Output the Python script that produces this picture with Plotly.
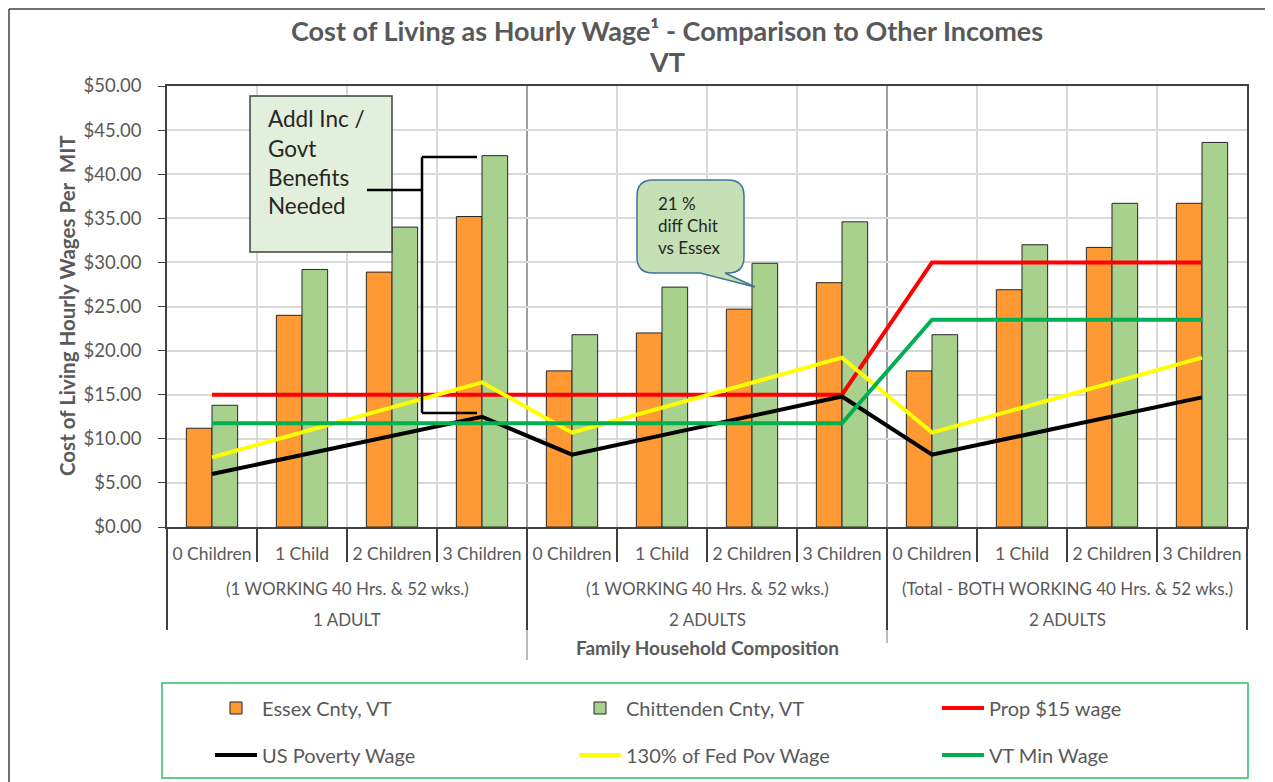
import plotly.graph_objects as go

# ---------------- data ----------------
children = ["0 Children", "1 Child", "2 Children", "3 Children",
            "0 Children", "1 Child", "2 Children", "3 Children",
            "0 Children", "1 Child", "2 Children", "3 Children"]
working_labels = ["(1 WORKING 40 Hrs. & 52 wks.)",
                  "(1 WORKING 40 Hrs. & 52 wks.)",
                  "(Total - BOTH WORKING 40 Hrs. & 52 wks.)"]
adult_labels = ["1 ADULT", "2 ADULTS", "2 ADULTS"]

essex = [11.2, 24.0, 28.9, 35.2, 17.7, 22.0, 24.7, 27.7, 17.7, 26.9, 31.7, 36.7]
chittenden = [13.8, 29.2, 34.0, 42.1, 21.8, 27.2, 29.9, 34.6, 21.8, 32.0, 36.7, 43.6]
prop15 = [15, 15, 15, 15, 15, 15, 15, 15, 30, 30, 30, 30]
poverty = [6.0, 8.2, 10.4, 12.5, 8.2, 10.4, 12.6, 14.8, 8.2, 10.4, 12.6, 14.7]
pov130 = [7.9, 10.7, 13.5, 16.4, 10.7, 13.5, 16.4, 19.2, 10.7, 13.5, 16.4, 19.2]
vtmin = [11.75, 11.75, 11.75, 11.75, 11.75, 11.75, 11.75, 11.75, 23.5, 23.5, 23.5, 23.5]

title_text = "Cost of Living as Hourly Wage¹ - Comparison to Other Incomes"
subtitle_text = "VT"
y_title = "Cost of Living Hourly Wages Per  MIT"
x_title = "Family Household Composition"

# ---------------- geometry helpers ----------------
# The page body has an 8px margin, so the figure is drawn 8px smaller and
# all page-pixel positions below are converted with that offset in mind.
OFF = 8
PW, PH = 1273, 782
L, R, T, B = 167, 1247, 86, 527          # plot area in page pixels
W, H = PW - OFF, PH - OFF


def px(x):
    return (x - L) / (R - L)


def py(y):
    return (B - y) / (B - T)


FONT = "Lato, Open Sans, sans-serif"
GRAY = "#595959"
xs = list(range(len(children)))

fig = go.Figure()
fig.add_trace(go.Bar(x=xs, y=essex, name="Essex Cnty, VT",
                     marker=dict(color="#FF9933", line=dict(color="#262626", width=1)),
                     legend="legend"))
fig.add_trace(go.Bar(x=xs, y=chittenden, name="Chittenden Cnty, VT",
                     marker=dict(color="#A9D18E", line=dict(color="#262626", width=1)),
                     legend="legend2"))
fig.add_trace(go.Scatter(x=xs, y=prop15, name="Prop $15 wage", mode="lines",
                         line=dict(color="#FF0000", width=4), legend="legend3"))
fig.add_trace(go.Scatter(x=xs, y=poverty, name="US Poverty Wage", mode="lines",
                         line=dict(color="#000000", width=4), legend="legend4"))
fig.add_trace(go.Scatter(x=xs, y=pov130, name="130% of Fed Pov Wage", mode="lines",
                         line=dict(color="#FFFF00", width=4), legend="legend5"))
fig.add_trace(go.Scatter(x=xs, y=vtmin, name="VT Min Wage", mode="lines",
                         line=dict(color="#00B050", width=4), legend="legend6"))

shapes = []
n = len(children)
for i in range(n + 1):
    xp = i / n
    group_edge = (i % 4 == 0)
    if 0 < i < n:
        shapes.append(dict(type="line", xref="paper", yref="paper", x0=xp, x1=xp, y0=0, y1=1,
                           line=dict(color="#7f7f7f" if group_edge else "#d9d9d9",
                                     width=1.5 if group_edge else 2), layer="below"))
    y_end = 630 if group_edge else 562
    shapes.append(dict(type="line", xref="paper", yref="paper", x0=xp, x1=xp,
                       y0=py(y_end), y1=0, line=dict(color="#404040", width=2)))
shapes.append(dict(type="line", xref="paper", yref="paper", x0=4 / n, x1=4 / n,
                   y0=py(660), y1=py(630), line=dict(color="#a6a6a6", width=1.5)))
shapes.append(dict(type="line", xref="paper", yref="paper", x0=8 / n, x1=8 / n,
                   y0=py(643), y1=py(630), line=dict(color="#a6a6a6", width=1.5)))

# legend box
shapes.append(dict(type="rect", xref="paper", yref="paper", x0=px(162), x1=px(1248),
                   y0=py(778), y1=py(683), line=dict(color="#33BB66", width=1.5)))
# outer border (top and left only)
shapes.append(dict(type="line", xref="paper", yref="paper", x0=px(9), x1=px(1273),
                   y0=py(9), y1=py(9), line=dict(color="#404040", width=1.5)))
shapes.append(dict(type="line", xref="paper", yref="paper", x0=px(9), x1=px(9),
                   y0=py(9), y1=py(782), line=dict(color="#404040", width=1.5)))

# callout 1 box
shapes.append(dict(type="rect", xref="paper", yref="paper", x0=px(250), x1=px(392),
                   y0=py(252), y1=py(96), fillcolor="#E2EFDA",
                   line=dict(color="#404040", width=1.5)))
for (x0, y0, x1, y1) in [(367, 190, 422, 190), (422, 157, 422, 413),
                         (422, 157, 477, 157), (422, 413, 477, 413)]:
    shapes.append(dict(type="line", xref="paper", yref="paper", x0=px(x0), x1=px(x1),
                       y0=py(y0), y1=py(y1), line=dict(color="#000000", width=2.5)))


def P(x, y):
    return f"{px(x):.5f},{py(y):.5f}"


bx0, bx1, by0, by1, r = 637, 744, 180, 273, 16
path = (f"M {P(bx0 + r, by0)} L {P(bx1 - r, by0)} Q {P(bx1, by0)} {P(bx1, by0 + r)} "
        f"L {P(bx1, by1 - r)} Q {P(bx1, by1)} {P(bx1 - r, by1)} "
        f"L {P(725, by1)} L {P(755, 287)} L {P(700, by1)} "
        f"L {P(bx0 + r, by1)} Q {P(bx0, by1)} {P(bx0, by1 - r)} "
        f"L {P(bx0, by0 + r)} Q {P(bx0, by0)} {P(bx0 + r, by0)} Z")
shapes.append(dict(type="path", xref="paper", yref="paper", path=path,
                   fillcolor="#C5E0B4", line=dict(color="#41719C", width=1.5)))

annotations = []


def ann(text, x, y, size, color=GRAY, xanchor="center", angle=0):
    annotations.append(dict(text=text, xref="paper", yref="paper", x=x, y=y,
                            xanchor=xanchor, yanchor="middle", showarrow=False,
                            textangle=angle, font=dict(family=FONT, size=size, color=color)))


ann(f"<b>{title_text}</b>", px(667), py(30), 27)
ann(f"<b>{subtitle_text}</b>", px(667), py(62), 27)
ann(f"<b>{y_title}</b>", px(67), py(306), 20.5, angle=-90)
ann(f"<b>{x_title}</b>", px(707), py(647), 19)
for g in range(3):
    cx = (4 * g + 2) / n
    ann(working_labels[g], cx, py(588), 17)
    ann(adult_labels[g], cx, py(619), 17)
for txt, yy in zip(["Addl Inc /", "Govt", "Benefits", "Needed"], [119, 148, 177, 205]):
    ann(txt, px(266), py(yy), 22.5, color="#262626", xanchor="left")
for txt, yy in zip(["21 %", "diff Chit", "vs Essex"], [203, 225, 247]):
    ann(txt, px(656), py(yy), 17, color="#262626", xanchor="left")

legend_cols = [215, 579, 942]
legend_rows = [708, 755]
legends = {}
k = 0
for ry in legend_rows:
    for cxp in legend_cols:
        key = "legend" if k == 0 else f"legend{k + 1}"
        legends[key] = dict(orientation="v", x=px(cxp - 5), y=py(ry), xanchor="left",
                            yanchor="middle", itemwidth=42, bgcolor="rgba(0,0,0,0)",
                            font=dict(family=FONT, size=20, color=GRAY))
        k += 1

fig.update_layout(
    width=W, height=H,
    margin=dict(l=L - OFF, r=PW - R, t=T - OFF, b=PH - B, autoexpand=False),
    paper_bgcolor="white", plot_bgcolor="white",
    barmode="group", bargap=0.43, bargroupgap=0,
    showlegend=True,
    font=dict(family=FONT, color=GRAY),
    xaxis=dict(range=[-0.5, 11.5], tickmode="array", tickvals=xs, ticktext=children,
               showgrid=False, zeroline=False, ticks="", showline=True, mirror=True,
               linecolor="#404040", linewidth=1.5, ticklabelstandoff=10,
               tickfont=dict(family=FONT, size=17.5, color=GRAY)),
    yaxis=dict(range=[0, 50], dtick=5, tickformat="$,.2f", showgrid=True,
               gridcolor="#d9d9d9", gridwidth=2, zeroline=False, ticks="outside",
               ticklen=7, tickcolor="#404040", showline=True, mirror=True,
               linecolor="#404040", linewidth=1.5, ticklabelstandoff=13,
               tickfont=dict(family=FONT, size=18.5, color=GRAY)),
    shapes=shapes, annotations=annotations,
    **legends,
)

fig.write_html("out.html")
